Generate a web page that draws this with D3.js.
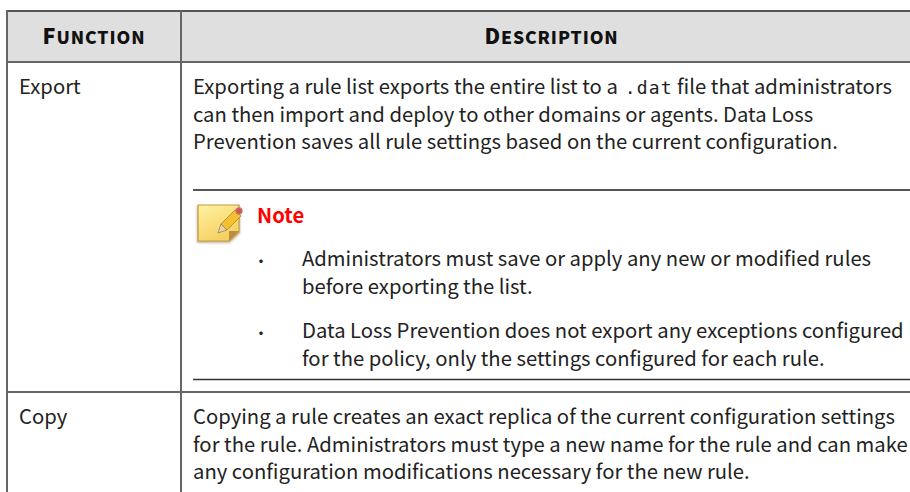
<!DOCTYPE html>
<html>
<head>
<meta charset="utf-8">
<script src="https://cdn.jsdelivr.net/npm/d3@7"></script>
<style>
  html, body { margin: 0; padding: 0; background: #fff; overflow: hidden; }
  text { font-family: "Noto Sans CJK SC", "Noto Sans", sans-serif; fill: #222; }
</style>
</head>
<body>
<div id="wrapper"></div>
<script>
const headers = ["Function", "Description"];
const functionNames = ["Export", "Copy"];
const exportLines = [
  ["Exporting a rule list exports the entire list to a ", ".dat", " file that administrators"],
  ["can then import and deploy to other domains or agents. Data Loss"],
  ["Prevention saves all rule settings based on the current configuration."]
];
const noteTitle = "Note";
const noteBullets = [
  ["Administrators must save or apply any new or modified rules", "before exporting the list."],
  ["Data Loss Prevention does not export any exceptions configured", "for the policy, only the settings configured for each rule."]
];
const copyLines = [
  "Copying a rule creates an exact replica of the current configuration settings",
  "for the rule. Administrators must type a new name for the rule and can make",
  "any configuration modifications necessary for the new rule."
];

const width = 910;
const height = 492;
const fontSize = 20.25;
const lineGap = 27.5;
const tableLeft = 7;
const colSplit = 181;
const tableTop = 11;
const headerBottom = 62;
const rowSplit = 392;
const textLeft = 193;
const lineColor = "#666";

const wrapper = d3.select("#wrapper").append("svg")
  .attr("width", width)
  .attr("height", height)
  .style("display", "block");

wrapper.append("rect")
  .attr("x", tableLeft).attr("y", tableTop)
  .attr("width", width - tableLeft).attr("height", headerBottom - tableTop)
  .attr("fill", "#dfdfdf");

function hLine(y, x1, w, color) {
  wrapper.append("line")
    .attr("x1", x1).attr("x2", width)
    .attr("y1", y).attr("y2", y)
    .attr("stroke", color).attr("stroke-width", w);
}
function vLine(x) {
  wrapper.append("line")
    .attr("x1", x).attr("x2", x)
    .attr("y1", tableTop - 1).attr("y2", height)
    .attr("stroke", lineColor).attr("stroke-width", 2);
}
hLine(11, tableLeft, 2, "#555");
hLine(62, tableLeft, 2, lineColor);
hLine(rowSplit, tableLeft, 2, lineColor);
vLine(tableLeft);
vLine(colSplit);
hLine(190, textLeft, 2, "#555");
hLine(379.5, textLeft, 1.5, "#333");

// small caps headers
function smallCaps(str, cx, y) {
  const t = wrapper.append("text")
    .attr("x", cx).attr("y", y)
    .attr("text-anchor", "middle")
    .style("font-weight", 900)
    .style("letter-spacing", "0.9px")
    .style("fill", "#111");
  t.append("tspan").style("font-size", "21.5px").text(str[0].toUpperCase());
  t.append("tspan").style("font-size", "17.5px").text(str.slice(1).toUpperCase());
}
smallCaps(headers[0], 94, 44);
smallCaps(headers[1], 551.5, 44);

function line(str, x, y) {
  return wrapper.append("text")
    .attr("x", x).attr("y", y)
    .style("font-size", fontSize + "px")
    .text(str);
}

line(functionNames[0], 19, 94);
line(functionNames[1], 19, 424);

exportLines.forEach((parts, i) => {
  const t = wrapper.append("text")
    .attr("x", textLeft).attr("y", 94 + i * lineGap)
    .style("white-space", "pre")
    .style("font-size", fontSize + "px");
  parts.forEach((p, j) => {
    const s = t.append("tspan").text(p);
    if (j === 1) {
      s.attr("dx", 2.5)
        .style("font-family", "'DejaVu Sans Mono', monospace")
        .style("font-size", "18px")
        .style("letter-spacing", "1.1px");
    }
  });
});

copyLines.forEach((s, i) => line(s, textLeft, 424 + i * lineGap));

wrapper.append("text")
  .attr("x", 257).attr("y", 223)
  .style("font-size", "20.25px")
  .style("font-weight", 700)
  .style("fill", "#f00")
  .text(noteTitle);

const bulletTops = [266, 338];
noteBullets.forEach((b, i) => {
  line("•", 253, bulletTops[i] + 1).style("font-size", "16px");
  b.forEach((s, j) => line(s, 302, bulletTops[i] + j * lineGap));
});

// note icon
const defs = wrapper.append("defs");
const grad = defs.append("linearGradient").attr("id", "noteFill")
  .attr("x1", 0).attr("y1", 0).attr("x2", 0.5).attr("y2", 1);
grad.append("stop").attr("offset", "0%").attr("stop-color", "#fff2a2");
grad.append("stop").attr("offset", "100%").attr("stop-color", "#f6d062");
const blur = defs.append("filter").attr("id", "soft");
blur.append("feGaussianBlur").attr("stdDeviation", 0.8);

const icon = wrapper.append("g").attr("transform", "translate(197,205)");
icon.append("path")
  .attr("d", "M0,1H43V28L33,38H0Z")
  .attr("fill", "#9a8560").attr("opacity", 0.6)
  .attr("filter", "url(#soft)");
icon.append("path")
  .attr("d", "M1,0H42V27L32,36H1Z")
  .attr("fill", "url(#noteFill)")
  .attr("stroke", "#c39c45").attr("stroke-width", 1.2);
icon.append("path")
  .attr("d", "M42,26H32V36Z")
  .attr("fill", "#b98f3f");
icon.append("path")
  .attr("d", "M24,19L38,5L44,11L30,25Z")
  .attr("fill", "#f4c02e").attr("stroke", "#9b7a30").attr("stroke-width", 0.7);
icon.append("path")
  .attr("d", "M24,19L30,25L21,28Z")
  .attr("fill", "#e7d3a5").attr("stroke", "#7b6a4a").attr("stroke-width", 0.6);
icon.append("circle")
  .attr("cx", 42).attr("cy", 6).attr("r", 3.4)
  .attr("fill", "#d9534f").attr("stroke", "#a99").attr("stroke-width", 0.6);
</script>
</body>
</html>
